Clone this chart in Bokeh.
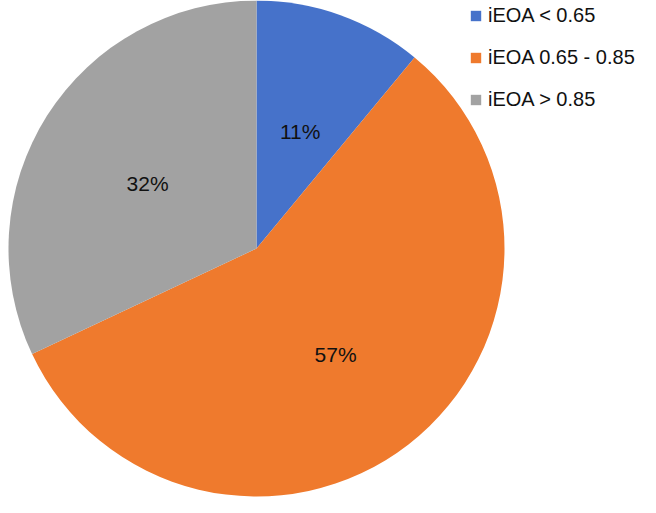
import numpy as np
from bokeh.plotting import figure
from bokeh.models import Range1d, Legend, LegendItem, ColumnDataSource
from bokeh.core.properties import value
from bokeh.embed import file_html
from bokeh.resources import INLINE

categories = ["iEOA < 0.65", "iEOA 0.65 - 0.85", "iEOA > 0.85"]
shares = [11, 57, 32]
labels = ["11%", "57%", "32%"]
colors = ["#4672CA", "#EF7A2D", "#A2A2A2"]

W, H = 640, 497
p = figure(width=W, height=H, x_range=Range1d(0, W), y_range=Range1d(0, H),
           output_backend="svg", toolbar_location=None, min_border=0)
p.axis.visible = False
p.grid.visible = False
p.outline_line_color = None
p.background_fill_color = None
p.border_fill_color = None

cx, cy, R = 256, H - 248, 248
vals = np.array(shares, dtype=float)
frac = vals / vals.sum()
cum = np.concatenate([[0], np.cumsum(frac)])
start = np.pi / 2 - 2 * np.pi * cum[:-1]
end = np.pi / 2 - 2 * np.pi * cum[1:]
mid = (start + end) / 2

src = ColumnDataSource(dict(start=start, end=end, color=colors, cat=categories,
                            lx=cx + 0.52 * R * np.cos(mid), ly=cy + 0.52 * R * np.sin(mid) - 4,
                            lab=labels))
r = p.wedge(x=cx, y=cy, radius=R, start_angle="start", end_angle="end", direction="clock",
            fill_color="color", line_color=None, source=src)
p.text(x="lx", y="ly", text="lab", source=src, text_align="center", text_baseline="middle",
       text_font=value("Liberation Sans"), text_font_size="21px", text_color="#111111")

legend = Legend(items=[LegendItem(label=c, renderers=[r], index=i) for i, c in enumerate(categories)],
                location=(469, 386), glyph_width=13, glyph_height=13,
                label_text_font="Liberation Sans", label_text_font_size="20px",
                label_text_color="#111111", label_height=22, spacing=19, padding=0, margin=0,
                label_standoff=6, border_line_color=None, background_fill_alpha=0)
p.add_layout(legend)

open("out.html", "w").write(file_html(p, INLINE))
